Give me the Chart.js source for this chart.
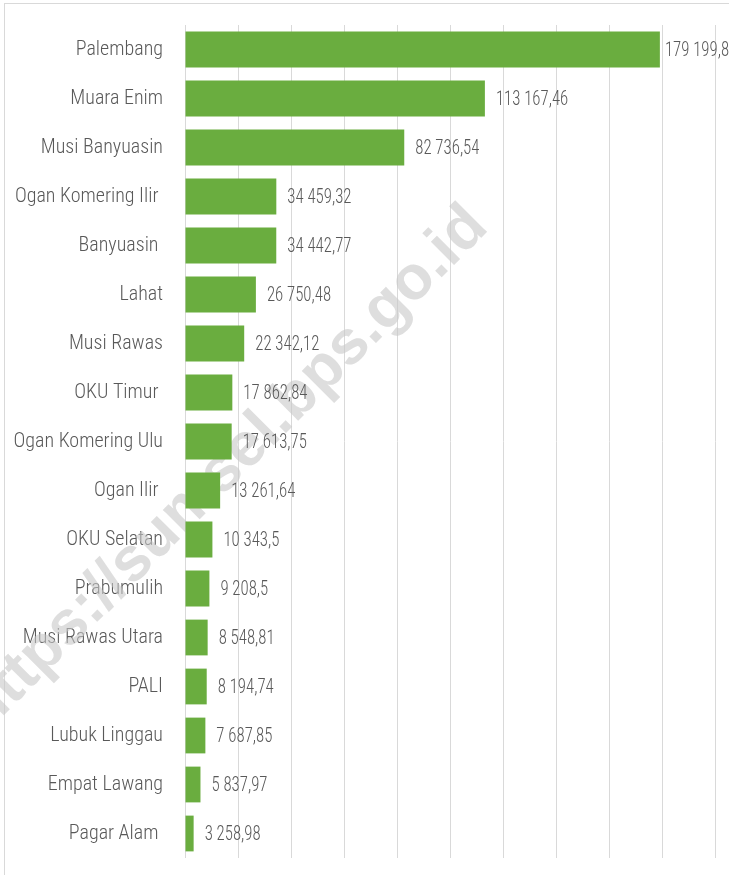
<!DOCTYPE html>
<html>
<head>
<meta charset="utf-8">
<script src="https://cdn.jsdelivr.net/npm/chart.js@4.4.1/dist/chart.umd.min.js"></script>
<style>
    html, body { margin: 0; padding: 0; background: #fff; }
    #wrap { position: relative; width: 729px; height: 875px; overflow: hidden; }
    #frame { position: absolute; left: 4px; top: 3px; width: 740px; height: 890px; border: 1px solid #d9d9d9; box-sizing: border-box; }
    canvas { position: absolute; left: 0; top: 0; }
</style>
</head>
<body>
<div id="wrap">
    <div id="frame"></div>
    <canvas id="chart" width="729" height="875"></canvas>
</div>
<script>
const categories = [
    'Palembang', 'Muara Enim', 'Musi Banyuasin', 'Ogan Komering Ilir ', 'Banyuasin ',
    'Lahat', 'Musi Rawas', 'OKU Timur ', 'Ogan Komering Ulu', 'Ogan Ilir ',
    'OKU Selatan', 'Prabumulih', 'Musi Rawas Utara', 'PALI', 'Lubuk Linggau',
    'Empat Lawang', 'Pagar Alam '
];
const values = [
    179199.8, 113167.46, 82736.54, 34459.32, 34442.77,
    26750.48, 22342.12, 17862.84, 17613.75, 13261.64,
    10343.5, 9208.5, 8548.81, 8194.74, 7687.85,
    5837.97, 3258.98
];
const axisMax = 200000;
const axisStep = 20000;
const watermark = 'https://sumsel.bps.go.id';

const FONT = "'Roboto Condensed', 'Liberation Sans Narrow', 'DejaVu Sans Condensed', sans-serif";
const TEXT_COLOR = '#595959';

function formatNumber(v) {
    const parts = String(v).split('.');
    const intPart = parts[0].replace(/\B(?=(\d{3})+(?!\d))/g, ' ');
    return parts.length > 1 ? intPart + ',' + parts[1] : intPart;
}

const watermarkPlugin = {
    id: 'watermark',
    beforeDatasetsDraw(chart) {
        const ctx = chart.ctx;
        ctx.save();
        ctx.translate(490, 229);
        ctx.rotate(-Math.PI / 4);
        ctx.font = "bold 62px 'Liberation Sans', Arial, sans-serif";
        ctx.fillStyle = 'rgba(200, 200, 200, 0.6)';
        ctx.textAlign = 'right';
        ctx.textBaseline = 'alphabetic';
        ctx.fillText(watermark, 0, 0);
        ctx.restore();
    }
};

// value labels, squeezed a bit to get the narrow look of the original
const valueLabels = {
    id: 'valueLabels',
    afterDatasetsDraw(chart) {
        const ctx = chart.ctx;
        const meta = chart.getDatasetMeta(0);
        const sx = 0.8;
        ctx.save();
        ctx.font = '300 21px ' + FONT;
        ctx.fillStyle = TEXT_COLOR;
        ctx.textAlign = 'left';
        ctx.textBaseline = 'middle';
        meta.data.forEach((bar, i) => {
            const text = formatNumber(values[i]);
            const w = ctx.measureText(text).width * sx;
            let x = bar.x + 11;
            if (x + w > chart.width) x = bar.x + 5;
            ctx.save();
            ctx.translate(x, bar.y + 1);
            ctx.scale(sx, 1);
            ctx.fillText(text, 0, 0);
            ctx.restore();
        });
        ctx.restore();
    }
};

new Chart(document.getElementById('chart'), {
    type: 'bar',
    data: {
        labels: categories,
        datasets: [{
            data: values,
            backgroundColor: '#6aad3f',
            borderWidth: 0,
            barPercentage: 0.73,
            categoryPercentage: 1
        }]
    },
    options: {
        indexAxis: 'y',
        responsive: false,
        animation: false,
        layout: {
            autoPadding: false,
            padding: { left: 0, right: 14, top: 25, bottom: 17 }
        },
        plugins: {
            legend: { display: false },
            tooltip: { enabled: false }
        },
        scales: {
            x: {
                min: 0,
                max: axisMax,
                afterFit: function(scale) {
                    scale.height = 0;
                    scale.paddingLeft = 0;
                    scale.paddingRight = 0;
                },
                ticks: { display: false, stepSize: axisStep },
                grid: { color: '#d9d9d9', lineWidth: 1, drawTicks: false },
                border: { display: false }
            },
            y: {
                afterFit: function(scale) {
                    scale.width = 185;
                    scale.paddingTop = 0;
                    scale.paddingBottom = 0;
                },
                ticks: {
                    color: TEXT_COLOR,
                    font: { family: FONT, size: 20, weight: '300' },
                    padding: 22,
                    autoSkip: false
                },
                grid: { display: false, drawTicks: false },
                border: { display: false }
            }
        }
    },
    plugins: [watermarkPlugin, valueLabels]
});
</script>
</body>
</html>
